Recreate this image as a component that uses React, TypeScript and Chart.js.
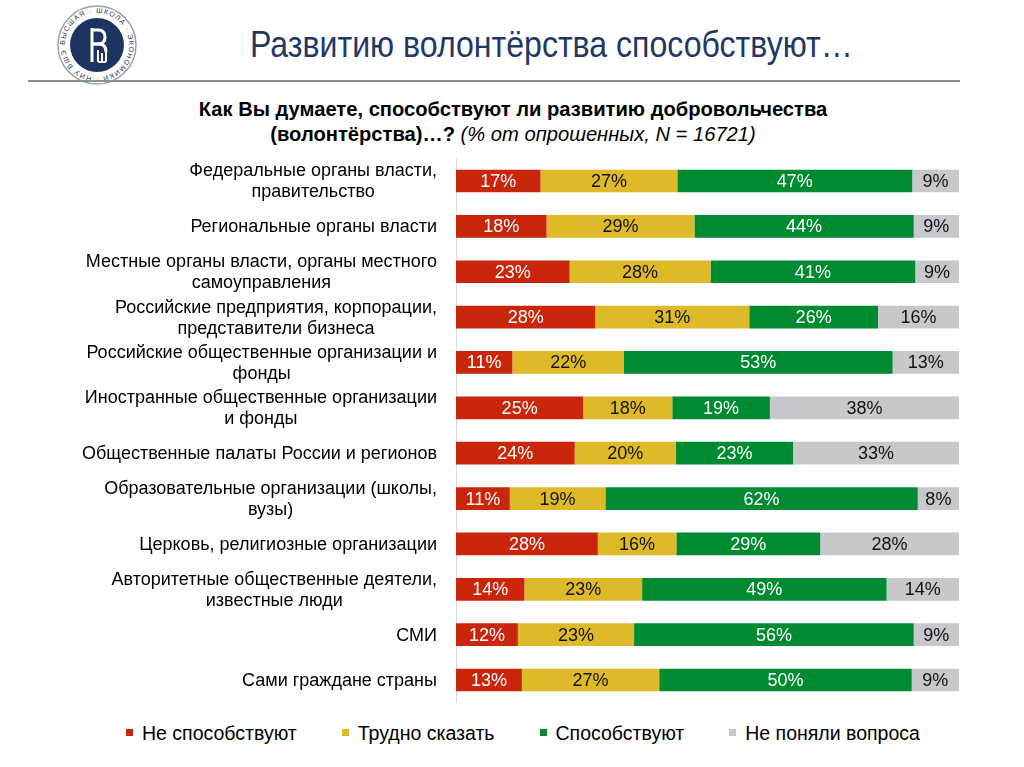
import React, { useEffect, useRef } from "react";
import { Chart, registerables } from "chart.js";

Chart.register(...registerables);

// ---- data ----
const categories: string[][] = [
  ["Федеральные органы власти,", "правительство"],
  ["Региональные органы власти"],
  ["Местные органы власти, органы местного", "самоуправления"],
  ["Российские предприятия, корпорации,", "представители бизнеса"],
  ["Российские общественные организации и", "фонды"],
  ["Иностранные общественные организации", "и фонды"],
  ["Общественные палаты России и регионов"],
  ["Образовательные организации (школы,", "вузы)"],
  ["Церковь, религиозные организации"],
  ["Авторитетные общественные деятели,", "известные люди"],
  ["СМИ"],
  ["Сами граждане страны"],
];

const seriesNames = ["Не способствуют", "Трудно сказать", "Способствуют", "Не поняли вопроса"];

const notHelping = [16.8, 18.0, 22.6, 27.7, 11.2, 25.3, 23.6, 10.7, 28.2, 13.6, 12.3, 13.1];
const hardToSay = [27.2, 29.4, 28.0, 30.6, 22.2, 17.7, 20.1, 19.0, 15.6, 23.4, 23.1, 27.3];
const helping = [46.7, 43.6, 40.7, 25.6, 53.4, 19.4, 23.3, 62.1, 28.6, 48.6, 55.6, 50.2];
const didNotUnderstand = [9.3, 9.0, 8.7, 16.1, 13.2, 37.6, 33.0, 8.2, 27.6, 14.4, 9.0, 9.4];

const seriesValues = [notHelping, hardToSay, helping, didNotUnderstand];

// ---- styles ----
const seriesColors = ["#c9260b", "#dfba28", "#008a32", "#c6c8cb"];
const valueTextColors = ["#ffffff", "#111111", "#ffffff", "#111111"];
const FONT = '"Liberation Sans", Arial, sans-serif';
const LABEL_RIGHT = 437;

const labelsPlugin = {
  id: "customLabels",
  afterDatasetsDraw(chart: any) {
    const ctx: CanvasRenderingContext2D = chart.ctx;
    ctx.save();
    ctx.textAlign = "center";
    ctx.textBaseline = "middle";
    ctx.font = `18px ${FONT}`;
    chart.data.datasets.forEach((ds: any, di: number) => {
      const meta = chart.getDatasetMeta(di);
      meta.data.forEach((bar: any, i: number) => {
        const { x, base, y } = bar.getProps(["x", "base", "y"], true);
        ctx.fillStyle = valueTextColors[di];
        ctx.fillText(Math.round(ds.data[i]) + "%", (x + base) / 2, y + 1);
      });
    });
    const yScale = chart.scales.y;
    ctx.font = `18px ${FONT}`;
    ctx.fillStyle = "#000000";
    categories.forEach((lines, i) => {
      const cy = yScale.getPixelForTick(i);
      const maxW = Math.max(...lines.map((l) => ctx.measureText(l).width));
      const cx = LABEL_RIGHT - maxW / 2;
      const lh = 21;
      lines.forEach((l, j) => {
        ctx.fillText(l, cx, cy + 1 + (j - (lines.length - 1) / 2) * lh);
      });
    });
    ctx.restore();
  },
};

function Logo() {
  return (
    <svg
      width="84"
      height="84"
      viewBox="0 0 84 84"
      style={{ position: "absolute", left: 55, top: 3 }}
    >
      <defs>
        <path id="hseRing" d="M42,42 m-32,0 a32,32 0 1,1 64,0 a32,32 0 1,1 -64,0" />
      </defs>
      <circle cx="42" cy="42" r="39" fill="#ffffff" stroke="#9aa0a8" strokeWidth="1.5" />
      <circle cx="42" cy="42" r="27" fill="#1d3461" />
      <text fontSize="7" fill="#1d3461" letterSpacing="1.2" fontFamily={FONT}>
        <textPath href="#hseRing">ВЫСШАЯ · ШКОЛА · ЭКОНОМИКИ · НИУ ВШЭ ·</textPath>
      </text>
      <g stroke="#ffffff" strokeWidth="3" fill="none">
        <path d="M37,25 V59" />
        <path d="M37,27 H43 Q50,27 50,34 Q50,41 43,41 H37" />
        <path d="M37,41 H44 Q51,41 51,49" />
        <path d="M43,47 V59 M47,50 V59 M51,49 V59 M43,59 H51" strokeWidth="2" />
      </g>
    </svg>
  );
}

export default function App() {
  const canvasRef = useRef<HTMLCanvasElement>(null);

  useEffect(() => {
    document.body.style.margin = "0";
    const canvas = canvasRef.current;
    if (!canvas) return;
    const chart = new Chart(canvas, {
      type: "bar",
      data: {
        labels: categories.map((c) => c.join(" ")),
        datasets: seriesNames.map((name, k) => ({
          label: name,
          data: seriesValues[k],
          backgroundColor: seriesColors[k],
          borderWidth: 0,
          barPercentage: 0.5,
          categoryPercentage: 1,
        })),
      },
      options: {
        indexAxis: "y",
        animation: false,
        responsive: true,
        maintainAspectRatio: false,
        layout: { padding: { top: 8.3, bottom: 7.3, left: 0, right: 65 } },
        plugins: {
          legend: { display: false },
          tooltip: { enabled: false },
        },
        scales: {
          x: { stacked: true, min: 0, max: 100, display: false },
          y: {
            stacked: true,
            grid: { display: false },
            border: { display: true, color: "#d9d9d9", width: 1 },
            ticks: { display: false },
            afterFit: (s: any) => {
              s.width = 456;
            },
          },
        },
      },
      plugins: [labelsPlugin],
    } as any);
    return () => chart.destroy();
  }, []);

  return (
    <div
      style={{
        position: "relative",
        width: 1024,
        height: 767,
        background: "#ffffff",
        overflow: "hidden",
        fontFamily: FONT,
      }}
    >
      <Logo />
      <div
        style={{
          position: "absolute",
          left: 250,
          top: 26,
          fontSize: 37,
          lineHeight: "37px",
          color: "#1f3864",
          whiteSpace: "nowrap",
          transform: "scaleX(0.867)",
          transformOrigin: "0 0",
        }}
      >
        Развитию волонтёрства способствуют…
      </div>
      <div
        style={{
          position: "absolute",
          left: 28,
          top: 80,
          width: 932,
          height: 2,
          background: "#8c9099",
        }}
      />
      <div
        style={{
          position: "absolute",
          left: 0,
          top: 96,
          width: 1026,
          textAlign: "center",
          fontSize: 21,
          lineHeight: "25px",
          color: "#000000",
          transform: "scaleX(0.96)",
          transformOrigin: "513px 0",
        }}
      >
        <div style={{ fontWeight: "bold" }}>Как Вы думаете, способствуют ли развитию добровольчества</div>
        <div>
          <span style={{ fontWeight: "bold" }}>(волонтёрства)…?</span>{" "}
          <span style={{ fontStyle: "italic" }}>(% от опрошенных, N = 16721)</span>
        </div>
      </div>
      <div style={{ position: "absolute", left: 0, top: 150, width: 1024, height: 560 }}>
        <canvas ref={canvasRef} />
      </div>
      <div
        style={{
          position: "absolute",
          left: 126,
          top: 723,
          display: "flex",
          alignItems: "center",
          gap: 45,
          fontSize: 19.5,
          lineHeight: "20px",
          color: "#000000",
        }}
      >
        {seriesNames.map((name, k) => (
          <div key={name} style={{ display: "flex", alignItems: "center" }}>
            <span
              style={{
                display: "inline-block",
                width: 7,
                height: 7,
                background: seriesColors[k],
                marginRight: 9,
                marginTop: -2,
              }}
            />
            <span>{name}</span>
          </div>
        ))}
      </div>
    </div>
  );
}
